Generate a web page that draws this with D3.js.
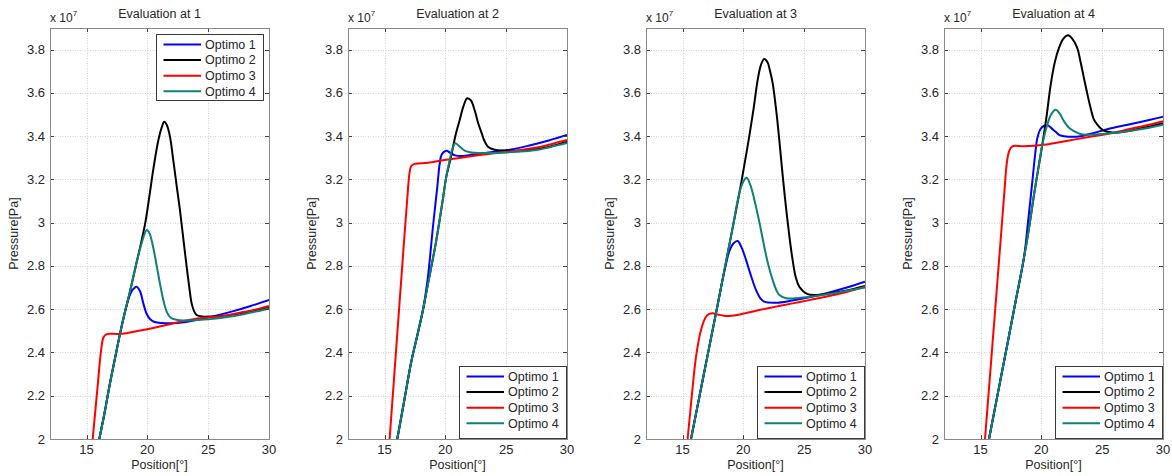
<!DOCTYPE html>
<html><head><meta charset="utf-8">
<script src="https://cdn.jsdelivr.net/npm/d3@7"></script>
<style>body{margin:0;background:#fff;} svg{display:block;font-family:"Liberation Sans",Arial,Helvetica,sans-serif;}</style>
</head><body><svg id="c" width="1172" height="476"></svg>
<script>
const panelTitles = ["Evaluation at 1","Evaluation at 2","Evaluation at 3","Evaluation at 4"];
const seriesNames = ["Optimo 1","Optimo 2","Optimo 3","Optimo 4"];
const seriesColors = ["#0000ff","#000000","#ff0000","#0f7f7a"];
const xTicks = [15,20,25,30];
const yTicks = [2,2.2,2.4,2.6,2.8,3,3.2,3.4,3.6,3.8];
const yTickLabels = ["2","2.2","2.4","2.6","2.8","3","3.2","3.4","3.6","3.8"];
const xDomain = [12,30];
const yDomain = [2,3.9];
const xLabel = "Position[°]";
const yLabel = "Pressure[Pa]";
const legendPlace = ["top","bottom","bottom","bottom"];

// Pressure values in units of 1e7 Pa
const e1_opt1 = [[15.8,1.93],[16.05,2.0],[16.5,2.125],[16.93,2.258],[17.35,2.375],[17.75,2.485],[18.15,2.585],[18.5,2.655],[18.8,2.69],[19.12,2.704],[19.4,2.683],[19.67,2.627],[19.95,2.578],[20.22,2.555],[20.6,2.541],[21.2,2.536],[22.0,2.535],[23,2.54],[24,2.55],[25.4,2.567],[27,2.59],[28.5,2.615],[30,2.643]];
const e1_opt2 = [[15.8,1.93],[16.05,2.0],[16.5,2.125],[16.93,2.258],[17.35,2.375],[17.75,2.485],[18.15,2.585],[18.57,2.681],[19.05,2.80],[19.5,2.91],[19.85,3.005],[20.15,3.115],[20.5,3.25],[20.9,3.38],[21.18,3.44],[21.39,3.467],[21.6,3.452],[21.86,3.398],[22.13,3.29],[22.4,3.175],[22.68,3.059],[22.95,2.93],[23.23,2.797],[23.45,2.70],[23.64,2.627],[23.85,2.59],[24.05,2.573],[24.5,2.566],[25,2.566],[26,2.568],[27,2.575],[28,2.585],[29,2.597],[30,2.61]];
const e1_opt3 = [[15.3,1.87],[15.51,2.0],[15.9,2.235],[16.2,2.41],[16.4,2.47],[16.66,2.485],[17.2,2.486],[17.75,2.485],[18.3,2.489],[19,2.497],[20,2.507],[21,2.52],[22,2.533],[23,2.546],[24,2.556],[25,2.562],[26,2.568],[27,2.577],[28,2.588],[29,2.60],[30,2.615]];
const e1_opt4 = [[15.8,1.93],[16.05,2.0],[16.5,2.125],[16.93,2.258],[17.35,2.375],[17.75,2.485],[18.15,2.585],[18.57,2.681],[19.05,2.80],[19.53,2.905],[19.8,2.952],[19.95,2.966],[20.15,2.955],[20.45,2.895],[20.77,2.80],[21.05,2.715],[21.31,2.643],[21.6,2.588],[21.9,2.562],[22.4,2.551],[23,2.548],[24,2.55],[25,2.553],[26,2.559],[27,2.567],[28,2.578],[29,2.59],[30,2.604]];

const e2_opt1 = [[15.8,1.925],[16.05,2.0],[16.6,2.17],[17.2,2.357],[17.7,2.48],[18.16,2.596],[18.57,2.75],[18.98,2.98],[19.34,3.166],[19.53,3.27],[19.7,3.315],[20.08,3.333],[20.4,3.323],[20.8,3.311],[21.3,3.308],[22.68,3.318],[24,3.328],[25.42,3.338],[27,3.358],[28.5,3.38],[30,3.405]];
const e2_opt2 = [[15.8,1.925],[16.05,2.0],[16.6,2.17],[17.2,2.357],[17.7,2.48],[18.16,2.596],[18.5,2.695],[18.85,2.797],[19.2,2.9],[19.53,3.012],[19.8,3.11],[20.08,3.213],[20.45,3.30],[20.82,3.40],[21.18,3.475],[21.5,3.54],[21.8,3.575],[22.1,3.565],[22.41,3.52],[22.7,3.46],[22.95,3.42],[23.2,3.38],[23.5,3.351],[24.05,3.337],[24.87,3.333],[25.5,3.332],[27,3.336],[28.5,3.35],[30,3.374]];
const e2_opt3 = [[15.2,1.83],[15.42,2.0],[16.0,2.447],[16.6,2.909],[16.95,3.17],[17.07,3.235],[17.2,3.262],[17.5,3.272],[18.57,3.277],[19.94,3.29],[21.3,3.30],[22.68,3.312],[24,3.321],[25.42,3.33],[27.3,3.345],[28.5,3.36],[30,3.382]];
const e2_opt4 = [[15.8,1.925],[16.05,2.0],[16.6,2.17],[17.2,2.357],[17.7,2.48],[18.16,2.596],[18.5,2.695],[18.85,2.797],[19.2,2.9],[19.53,3.012],[19.8,3.11],[20.08,3.213],[20.36,3.29],[20.6,3.345],[20.82,3.367],[21.1,3.356],[21.59,3.333],[22.0,3.326],[22.4,3.323],[23.5,3.322],[25,3.325],[26.5,3.33],[27.5,3.336],[28.5,3.348],[30,3.368]];

const e3_opt1 = [[15.5,1.94],[15.7,2.0],[16.2,2.142],[16.7,2.284],[17.25,2.44],[17.75,2.581],[18.2,2.71],[18.5,2.79],[18.85,2.868],[19.2,2.905],[19.53,2.915],[19.85,2.886],[20.22,2.828],[20.6,2.76],[21.04,2.689],[21.4,2.65],[21.72,2.635],[22.68,2.63],[24,2.64],[25.42,2.655],[27,2.676],[28.5,2.70],[30,2.727]];
const e3_opt2 = [[15.5,1.94],[15.7,2.0],[16.2,2.142],[16.7,2.284],[17.25,2.44],[17.75,2.581],[18.2,2.71],[18.6,2.826],[19.1,2.97],[19.67,3.136],[20.0,3.24],[20.49,3.40],[20.85,3.53],[21.18,3.66],[21.45,3.73],[21.72,3.757],[22.0,3.74],[22.2,3.70],[22.41,3.645],[22.7,3.52],[22.96,3.38],[23.23,3.22],[23.5,3.074],[23.8,2.93],[24.05,2.828],[24.3,2.75],[24.6,2.704],[25.28,2.67],[26,2.666],[26.79,2.67],[28.4,2.685],[30,2.707]];
const e3_opt3 = [[15.2,1.88],[15.42,2.0],[15.8,2.22],[16.11,2.38],[16.52,2.504],[16.93,2.565],[17.2,2.578],[17.48,2.581],[17.9,2.576],[18.4,2.57],[18.85,2.569],[19.8,2.577],[21.31,2.596],[22.68,2.612],[24.05,2.627],[25.4,2.642],[26.79,2.658],[28.4,2.678],[30,2.704]];
const e3_opt4 = [[15.5,1.94],[15.7,2.0],[16.2,2.142],[16.7,2.284],[17.25,2.44],[17.75,2.581],[18.2,2.71],[18.6,2.826],[19.1,2.97],[19.67,3.136],[20.0,3.19],[20.27,3.208],[20.6,3.17],[21.04,3.074],[21.4,2.98],[21.72,2.889],[22.05,2.805],[22.41,2.735],[22.7,2.69],[22.96,2.666],[23.6,2.65],[24.5,2.652],[25.5,2.658],[27,2.67],[28.5,2.685],[30,2.70]];

const e4_opt1 = [[15.5,1.94],[15.7,2.0],[16.45,2.218],[17.2,2.436],[17.9,2.64],[18.57,2.837],[18.9,3.0],[19.26,3.19],[19.5,3.32],[19.67,3.39],[19.9,3.43],[20.2,3.447],[20.55,3.45],[20.85,3.436],[21.18,3.42],[21.5,3.405],[21.86,3.40],[23.23,3.40],[24.3,3.415],[25.42,3.432],[27,3.452],[28.5,3.47],[30,3.49]];
const e4_opt2 = [[15.5,1.94],[15.7,2.0],[16.45,2.218],[17.2,2.436],[17.9,2.64],[18.57,2.837],[19.0,2.98],[19.4,3.13],[19.75,3.25],[20.08,3.36],[20.45,3.50],[20.77,3.638],[21.1,3.74],[21.45,3.808],[21.8,3.85],[22.19,3.866],[22.55,3.85],[22.95,3.808],[23.2,3.75],[23.5,3.669],[23.8,3.59],[24.05,3.53],[24.3,3.48],[24.6,3.453],[25.0,3.43],[25.42,3.42],[26.0,3.416],[26.79,3.42],[28.5,3.44],[30,3.46]];
const e4_opt3 = [[15.2,1.88],[15.37,2.0],[16.0,2.45],[16.6,2.88],[17.0,3.17],[17.15,3.27],[17.35,3.33],[17.61,3.353],[18.57,3.353],[20.22,3.36],[21.5,3.372],[22.68,3.384],[24,3.397],[25.42,3.41],[27,3.43],[28.5,3.448],[30,3.469]];
const e4_opt4 = [[15.5,1.94],[15.7,2.0],[16.45,2.218],[17.2,2.436],[17.9,2.64],[18.57,2.837],[19.0,2.98],[19.4,3.13],[19.75,3.25],[20.08,3.36],[20.49,3.453],[20.8,3.50],[21.18,3.522],[21.5,3.505],[21.86,3.469],[22.25,3.44],[22.68,3.423],[23.2,3.41],[23.78,3.407],[25,3.41],[26.79,3.42],[28.5,3.435],[30,3.453]];

const panels = [
  [e1_opt1,e1_opt2,e1_opt3,e1_opt4],
  [e2_opt1,e2_opt2,e2_opt3,e2_opt4],
  [e3_opt1,e3_opt2,e3_opt3,e3_opt4],
  [e4_opt1,e4_opt2,e4_opt3,e4_opt4]
];

const svg = d3.select("#c");
const lefts = [50,348,646,944];
const plotTop = 28, W = 219, H = 411;
const textColor = "#262626";

const x = d3.scaleLinear().domain(xDomain).range([0,W]);
const y = d3.scaleLinear().domain(yDomain).range([H,0]);
const line = d3.line().x(d=>x(d[0])).y(d=>y(d[1])).curve(d3.curveCatmullRom.alpha(0.5));

panels.forEach((series,pi)=>{
  const g = svg.append("g").attr("transform",`translate(${lefts[pi]},${plotTop})`);
  g.append("rect").attr("width",W).attr("height",H).attr("fill","#fff");
  // grid
  g.selectAll(".gx").data(xTicks.filter(t=>t<xDomain[1])).enter().append("line")
    .attr("x1",d=>Math.round(x(d))+0.5).attr("x2",d=>Math.round(x(d))+0.5).attr("y1",0).attr("y2",H)
    .attr("stroke","#d2d2d2").attr("stroke-dasharray","1,1.5").attr("stroke-width",1);
  g.selectAll(".gy").data(yTicks.filter(t=>t>yDomain[0])).enter().append("line")
    .attr("y1",d=>Math.round(y(d))+0.5).attr("y2",d=>Math.round(y(d))+0.5).attr("x1",0).attr("x2",W)
    .attr("stroke","#d2d2d2").attr("stroke-dasharray","1,1.5").attr("stroke-width",1);
  // clip
  const cid = "clip"+pi;
  g.append("clipPath").attr("id",cid).append("rect").attr("width",W).attr("height",H);
  const lg = g.append("g").attr("clip-path",`url(#${cid})`);
  series.forEach((s,si)=>{
    lg.append("path").attr("d",line(s)).attr("fill","none")
      .attr("stroke",seriesColors[si]).attr("stroke-width",2).attr("stroke-linejoin","round");
  });
  // ticks (inside, all four sides)
  const tk = 4;
  xTicks.forEach(t=>{
    const px = Math.round(x(t))+0.5;
    g.append("line").attr("x1",px).attr("x2",px).attr("y1",H).attr("y2",H-tk).attr("stroke","#404040");
    g.append("line").attr("x1",px).attr("x2",px).attr("y1",0).attr("y2",tk).attr("stroke","#404040");
  });
  yTicks.forEach(t=>{
    const py = Math.round(y(t))+0.5;
    g.append("line").attr("y1",py).attr("y2",py).attr("x1",0).attr("x2",tk).attr("stroke","#404040");
    g.append("line").attr("y1",py).attr("y2",py).attr("x1",W).attr("x2",W-tk).attr("stroke","#404040");
  });
  // frame
  g.append("rect").attr("x",0.5).attr("y",0.5).attr("width",W).attr("height",H)
    .attr("fill","none").attr("stroke","#8a8a8a").attr("stroke-width",1);
  // tick labels
  g.selectAll(".xl").data(xTicks).enter().append("text")
    .attr("x",d=>x(d)).attr("y",H+15).attr("text-anchor","middle")
    .attr("font-size","13px").attr("fill",textColor).text(d=>d);
  g.selectAll(".yl").data(yTicks).enter().append("text")
    .attr("x",-5).attr("y",d=>y(d)).attr("dy","0.35em").attr("text-anchor","end")
    .attr("font-size","13px").attr("fill",textColor).text((d,i)=>yTickLabels[i]);
  // exponent
  const ex = g.append("text").attr("x",0).attr("y",-6).attr("font-size","12px").attr("fill",textColor);
  ex.append("tspan").text("x 10");
  ex.append("tspan").attr("dy","-6").attr("font-size","8px").text("7");
  // title
  g.append("text").attr("x",W/2).attr("y",-10).attr("text-anchor","middle")
    .attr("font-size","12.5px").attr("fill",textColor).text(panelTitles[pi]);
  // axis labels
  g.append("text").attr("x",W/2).attr("y",H+30).attr("text-anchor","middle")
    .attr("font-size","12.5px").attr("fill",textColor).text(xLabel);
  g.append("text").attr("transform",`translate(-32,${H/2}) rotate(-90)`).attr("text-anchor","middle")
    .attr("font-size","12.5px").attr("fill",textColor).text(yLabel);
  // legend
  const lw = 107;
  let lx, ly, lh;
  if (legendPlace[pi]==="top") { lx = W-6-lw; ly = 6; lh = 66; }
  else { lx = W-1-lw; ly = H-73; lh = 72; }
  const leg = g.append("g").attr("transform",`translate(${lx},${ly})`);
  leg.append("rect").attr("x",0.5).attr("y",0.5).attr("width",lw).attr("height",lh)
    .attr("fill","#fff").attr("stroke","#3a3a3a").attr("stroke-width",1);
  seriesNames.forEach((n,si)=>{
    const cy = 10.5 + si*15.6;
    leg.append("line").attr("x1",7.5).attr("x2",45).attr("y1",cy).attr("y2",cy)
      .attr("stroke",seriesColors[si]).attr("stroke-width",2);
    leg.append("text").attr("x",49).attr("y",cy).attr("dy","0.35em")
      .attr("font-size","12.5px").attr("fill",textColor).text(n);
  });
});
</script>
</body></html>
